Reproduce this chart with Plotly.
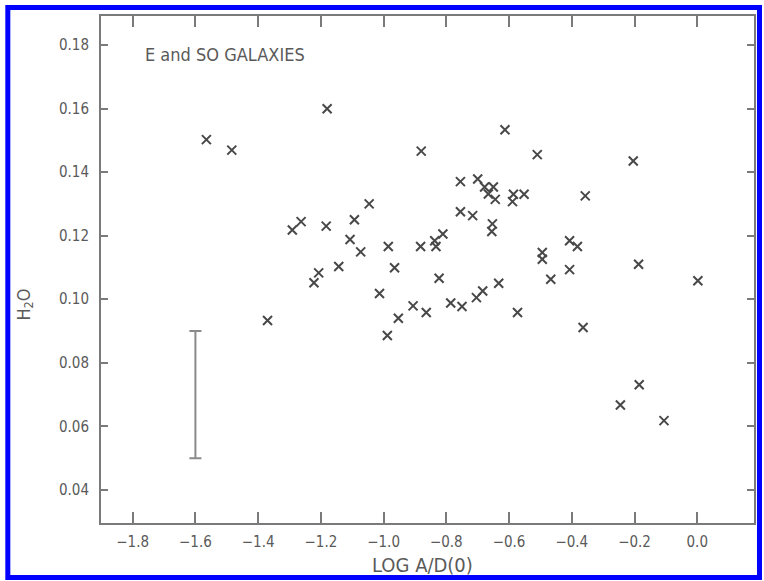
import plotly.graph_objects as go

# --- data: log A/D(0) vs H2O index for E and S0 galaxies ---
log_ad = [-1.565, -1.484, -1.180, -1.370, -1.291, -1.263, -1.183, -1.046, -1.093, -1.107,
          -1.073, -0.985, -1.143, -1.207, -1.222, -1.013, -0.988, -0.965, -0.953, -0.906,
          -0.864, -0.880, -0.882, -0.837, -0.833, -0.811, -0.823, -0.786, -0.750, -0.704,
          -0.684, -0.633, -0.573, -0.755, -0.700, -0.755, -0.716, -0.678, -0.650, -0.666,
          -0.644, -0.653, -0.655, -0.613, -0.586, -0.552, -0.589, -0.510, -0.357, -0.407,
          -0.382, -0.494, -0.494, -0.407, -0.467, -0.364, -0.204, -0.187, 0.002, -0.185,
          -0.245, -0.106]
h2o = [0.1502, 0.1469, 0.1599, 0.0933, 0.1218, 0.1244, 0.1230, 0.1300, 0.1250, 0.1188,
       0.1149, 0.1166, 0.1103, 0.1083, 0.1052, 0.1018, 0.0886, 0.1099, 0.0940, 0.0979,
       0.0958, 0.1466, 0.1166, 0.1184, 0.1166, 0.1205, 0.1066, 0.0988, 0.0977, 0.1005,
       0.1026, 0.1050, 0.0958, 0.1370, 0.1378, 0.1275, 0.1263, 0.1353, 0.1353, 0.1331,
       0.1314, 0.1237, 0.1213, 0.1533, 0.1330, 0.1330, 0.1307, 0.1455, 0.1325, 0.1184,
       0.1166, 0.1147, 0.1126, 0.1093, 0.1063, 0.0911, 0.1435, 0.1110, 0.1058, 0.0731,
       0.0667, 0.0618]

# representative error bar
err_x = [-1.6]
err_y = [0.07]
err_half = [0.02]

x_ticks = [-1.8, -1.6, -1.4, -1.2, -1.0, -0.8, -0.6, -0.4, -0.2, 0.0]
y_ticks = [0.04, 0.06, 0.08, 0.10, 0.12, 0.14, 0.16, 0.18]

INK = "#484848"
AX = "#7a7a7a"
TXT = "#5a5a5a"
FONT = "DejaVu Sans Condensed, DejaVu Sans, sans-serif"

fig = go.Figure()
fig.add_trace(go.Scatter(
    x=log_ad, y=h2o, mode="markers",
    marker=dict(symbol="x-thin", size=9, color=INK, line=dict(width=2, color=INK)),
    showlegend=False, hoverinfo="x+y"))
fig.add_trace(go.Scatter(
    x=err_x, y=err_y, mode="markers",
    marker=dict(size=1, color="rgba(0,0,0,0)"),
    error_y=dict(type="data", array=err_half, visible=True, color="#8a8a8a",
                 thickness=2, width=6),
    showlegend=False, hoverinfo="skip"))

axis_common = dict(showgrid=False, zeroline=False, showline=True, linecolor=AX,
                   linewidth=2, mirror="ticks", ticks="inside", tickcolor=AX,
                   tickwidth=2, tickfont=dict(family=FONT, size=15, color=TXT))

fig.update_xaxes(range=[-1.901, 0.181], tickvals=x_ticks, tickformat=".1f",
                 ticklen=11, ticklabelstandoff=4, **axis_common)
fig.update_yaxes(range=[0.0296, 0.1891], tickvals=y_ticks, tickformat=".2f",
                 ticklen=7, ticklabelstandoff=7, **axis_common)

fig.add_annotation(text="E and SO GALAXIES", xref="paper", yref="paper",
                   x=0.065, y=0.925, xanchor="left", yanchor="middle", showarrow=False,
                   font=dict(family=FONT, size=18, color=TXT))
fig.add_annotation(text="LOG A/D(0)", xref="paper", yref="paper",
                   x=0.493, y=-0.082, xanchor="center", yanchor="middle", showarrow=False,
                   font=dict(family=FONT, size=20, color=TXT))
fig.add_annotation(text="H<sub>2</sub>O", xref="paper", yref="paper",
                   x=-0.117, y=0.43, xanchor="center", yanchor="middle", showarrow=False,
                   textangle=-90, font=dict(family=FONT, size=18, color=TXT))

# blue frame around the scan
fig.add_shape(type="rect", xref="paper", yref="paper",
              x0=-0.1427, x1=1.0084, y0=-0.1075, y1=1.0168,
              line=dict(color="#0000ff", width=5), fillcolor="rgba(0,0,0,0)", layer="above")

fig.update_layout(width=764, height=581, margin=dict(l=101, r=8, t=16, b=58),
                  paper_bgcolor="white", plot_bgcolor="white",
                  font=dict(family=FONT, color=TXT))

fig.write_html("out.html")
